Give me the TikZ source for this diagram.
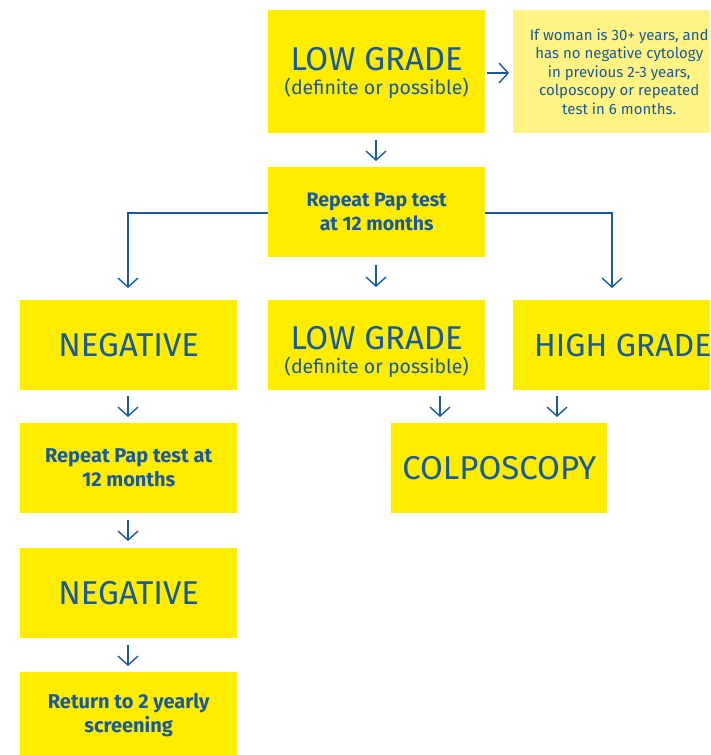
\documentclass[tikz,border=0pt]{standalone}
\usepackage{fontspec}
\setmainfont{Fira Sans}
\usetikzlibrary{arrows.meta}
\definecolor{boxyellow}{HTML}{FFED00}
\definecolor{lightyellow}{HTML}{FFF383}
\definecolor{txtblue}{HTML}{1A5A9A}
\newcommand{\lowgrade}{\begin{tabular}{@{}c@{}}{\fontsize{33}{33}\selectfont LOW GRADE}\\{\fontsize{19.5}{24}\selectfont (definite or possible)}\end{tabular}}
\begin{document}
\begin{tikzpicture}[x=1pt,y=-1pt,
  box/.style={fill=boxyellow,draw=none,anchor=north west,minimum width=217pt,minimum height=90pt,inner sep=0pt,align=center,text=txtblue},
  big/.style={font=\fontsize{33}{36}\selectfont},
  mid/.style={font=\fontsize{20}{24}\selectfont\bfseries},
  lowg/.style={font=\fontsize{19.5}{24}\selectfont,text=txtblue,inner sep=0pt},
  arr/.style={draw=txtblue,line width=1.4pt,-{Straight Barb[length=9pt,width=20pt,line width=1.4pt]}},
  ln/.style={draw=txtblue,line width=1.2pt}]
\useasboundingbox (0,0) rectangle (710,755);
\begin{scope}
\clip (0,0) rectangle (710,755);
\node[box,minimum height=123pt,label={[lowg,yshift=-2.5pt]center:\lowgrade}] (low1) at (268,10) {};
\node[box,fill=lightyellow,minimum width=212pt,minimum height=123pt,font=\fontsize{15}{18.5}\selectfont] (note) at (513,10) {If woman is 30+ years, and\\has no negative cytology\\in previous 2-3 years,\\colposcopy or repeated\\test in 6 months.};
\node[box,font=\fontsize{19.5}{24}\selectfont\bfseries] (rep1) at (268,167) {Repeat Pap test\\at 12 months};
\node[box,big] (neg1) at (20,300) {NEGATIVE};
\node[box,label={[lowg,yshift=-8pt]center:\lowgrade}] (low2) at (268,300) {};
\node[box,font=\fontsize{32}{36}\selectfont,minimum width=212pt] (high) at (513,300) {\makebox[212pt][l]{\hspace*{21pt}HIGH GRADE}};
\node[box,mid] (rep2) at (20,423) {Repeat Pap test at\\12 months};
\node[box,big,minimum width=216pt] (colpo) at (391,423) {COLPOSCOPY};
\node[box,big] (neg2) at (20,548) {NEGATIVE};
\node[box,mid,minimum height=85pt] (ret) at (20,672) {Return to 2 yearly\\screening};
\end{scope}
\coordinate (arA) at (487,73);
\coordinate (arB) at (509,73);
\draw[arr] (arA) -- (arB);
\draw[arr] (376,140) -- (376,161);
\draw[ln] (rep1.west |- 0,213) -| (128,275);
\draw[arr] (128,270) -- (128,288);
\draw[ln] (rep1.east |- 0,213) -| (612,275);
\draw[arr] (612,270) -- (612,288);
\draw[arr] (376,265) -- (376,287);
\draw[arr] (128,396) -- (128,417);
\draw[arr] (440,396) -- (440,417);
\draw[arr] (557,396) -- (557,417);
\draw[arr] (128,520) -- (128,541);
\draw[arr] (128,645) -- (128,666);
\end{tikzpicture}
\end{document}
